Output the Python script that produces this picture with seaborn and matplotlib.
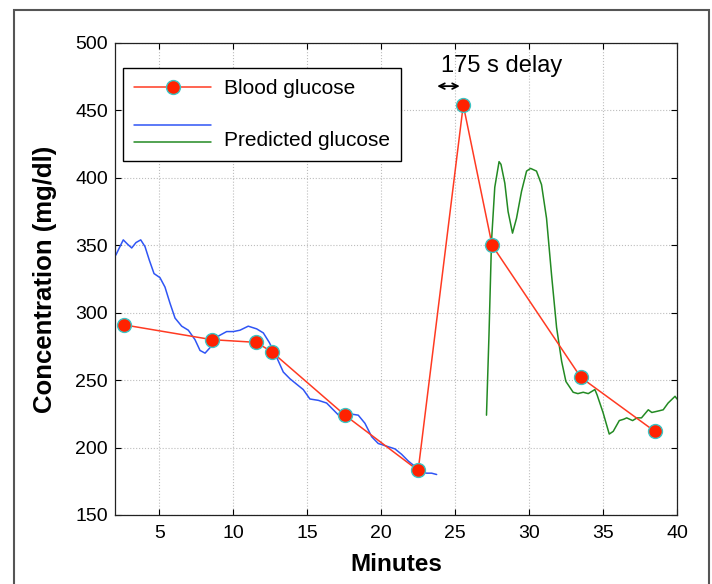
import matplotlib
matplotlib.use("Agg")
import matplotlib.pyplot as plt
import seaborn as sns
from matplotlib.patches import Rectangle
from matplotlib.lines import Line2D
from matplotlib.legend_handler import HandlerBase

# blood samples (minutes, mg/dl)
blood_min = [2.6, 8.55, 11.55, 12.6, 17.55, 22.5, 25.55, 27.5, 33.5, 38.5]
blood_val = [291, 280, 278, 271, 224, 183, 454, 350, 252, 212]

# predicted glucose, first segment (blue)
pred1_min = [2.0, 2.07, 2.29, 2.56, 2.83, 3.13, 3.42, 3.74, 4.03, 4.32, 4.64, 5.04, 5.38,
             5.72, 6.06, 6.51, 6.96, 7.41, 7.75, 8.09, 8.42, 8.88, 9.55, 10.0, 10.45,
             11.01, 11.58, 12.03, 12.43, 12.93, 13.38, 13.83, 14.39, 14.73, 15.18, 15.75,
             16.31, 16.76, 17.21, 17.89, 18.45, 18.9, 19.36, 19.8, 20.37, 20.93, 21.38,
             21.83, 22.28, 22.62, 23.07, 23.41, 23.75]
pred1_val = [342, 343, 348, 354, 351, 348, 352, 354, 349, 339, 329, 326, 319,
             307, 296, 290, 287, 280, 272, 270, 274, 282, 286, 286, 287,
             290, 288, 285, 278, 267, 256, 251, 246, 243, 236, 235,
             233, 228, 223, 225, 224, 218, 208, 203, 201, 199, 195,
             190, 186, 182, 181, 181, 180]

# predicted glucose, second segment (green)
pred2_min = [27.12, 27.29, 27.46, 27.68, 27.97, 28.1, 28.36, 28.58, 28.88, 29.15, 29.49,
             29.83, 30.1, 30.5, 30.84, 31.18, 31.52, 31.86, 32.2, 32.49, 32.98, 33.3,
             33.66, 34.0, 34.45, 34.6, 35.0, 35.42, 35.69, 36.1, 36.4, 36.6, 37.0, 37.3,
             37.6, 38.06, 38.3, 38.7, 39.07, 39.4, 39.87, 40.0]
pred2_val = [224, 284, 353, 393, 412, 410, 396, 375, 359, 370, 390,
             405, 407, 405, 395, 370, 328, 289, 264, 249, 241, 240,
             241, 240, 243, 239, 226, 210, 212, 220, 221, 222, 220, 222,
             222, 228, 226, 227, 228, 233, 238, 236]

xticks = [5, 10, 15, 20, 25, 30, 35, 40]
yticks = [150, 200, 250, 300, 350, 400, 450, 500]


class StackedLines(HandlerBase):
    # two short lines above each other for one legend label
    def create_artists(self, legend, orig_handle, xdescent, ydescent,
                       width, height, fontsize, trans):
        yc = height / 2 - ydescent
        arts = []
        for h, dy in zip(orig_handle, [0.66 * fontsize, -0.16 * fontsize]):
            ln = Line2D([-xdescent, -xdescent + width], [yc + dy, yc + dy],
                        color=h.get_color(), lw=h.get_linewidth(), transform=trans)
            arts.append(ln)
        return arts


sns.set_style("ticks")
plt.rcParams["font.family"] = ["Liberation Sans", "DejaVu Sans"]
plt.rcParams["text.color"] = "black"
plt.rcParams["axes.labelcolor"] = "black"

fig = plt.figure(figsize=(7.12, 5.84), dpi=100)
ax = fig.add_axes([0.1615, 0.1182, 0.7893, 0.8082])

sns.lineplot(x=pred1_min, y=pred1_val, ax=ax, color="#2f55f5", lw=1.1,
             sort=False, estimator=None, legend=False)
sns.lineplot(x=pred2_min, y=pred2_val, ax=ax, color="#238a23", lw=1.1,
             sort=False, estimator=None, legend=False)
sns.lineplot(x=blood_min, y=blood_val, ax=ax, color="#ff3a22", lw=1.1,
             marker="o", markersize=10, markerfacecolor="#ff2200",
             markeredgecolor="#3cc4c4", markeredgewidth=1.0,
             sort=False, estimator=None, legend=False)

ax.set_xlim(2, 40)
ax.set_ylim(150, 500)
ax.set_xticks(xticks)
ax.set_yticks(yticks)
ax.tick_params(direction="in", top=True, right=True, length=4, width=0.8,
               labelsize=14, colors="black")
ax.tick_params(axis="x", pad=7)
ax.tick_params(axis="y", pad=5)
ax.grid(True, linestyle=":", color="#bdbdbd", lw=0.8)
for s in ax.spines.values():
    s.set_color("#222222")
    s.set_linewidth(0.9)

ax.set_xlabel("Minutes", fontsize=17.5, fontweight="bold", labelpad=8.5)
ax.set_ylabel("Concentration (mg/dl)", fontsize=18.5, fontweight="bold", labelpad=13)

# legend
h_blood = ax.lines[2]
h_pred = (ax.lines[0], ax.lines[1])
leg = ax.legend([h_blood, h_pred], ["Blood glucose", "Predicted glucose"],
                handler_map={tuple: StackedLines()},
                loc="upper left", bbox_to_anchor=(0.0137, 0.947), borderaxespad=0,
                fontsize=15, frameon=True, fancybox=False, framealpha=1,
                edgecolor="black", handlelength=3.7, handletextpad=0.6,
                labelspacing=1.55, borderpad=0.55)
leg.get_frame().set_linewidth(1.0)

# delay annotation
ax.annotate("", xy=(23.6, 468), xytext=(25.5, 468),
            arrowprops=dict(arrowstyle="<->", color="black", lw=1.3,
                            mutation_scale=10))
ax.text(24.05, 483, "175 s delay", fontsize=17, ha="left", va="center")

# outer frame
fig.patches.append(Rectangle((14 / 712, -0.05), 695 / 712, 1.05 - 10 / 584,
                             transform=fig.transFigure, fill=False,
                             edgecolor="#555555", lw=1.5))

fig.savefig("out.png", dpi=100)
